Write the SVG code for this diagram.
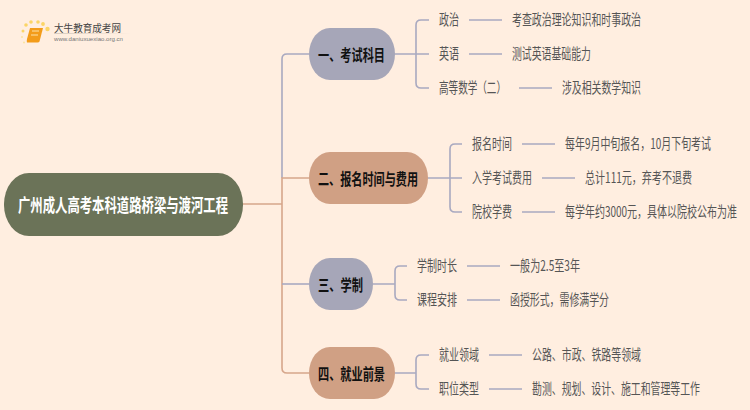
<svg xmlns="http://www.w3.org/2000/svg" width="750" height="410" viewBox="0 0 750 410">
<style>
text{font-family:"Noto Sans CJK SC","Liberation Sans",sans-serif;dominant-baseline:central}
.l{fill:none;stroke:#a9a9c0;stroke-width:1.6}
.t{fill:none;stroke:#d6a68b;stroke-width:1.6}
.s{font-size:10px;fill:#555}
.h{font-size:11.200px;font-weight:700;fill:#111}
</style>
<defs><linearGradient id="fade"><stop offset="0" stop-color="#d8ccc0"/><stop offset="1" stop-color="#ffeee0"/></linearGradient></defs>
<rect width="750" height="410" fill="#ffeee0"/>
<g id="logo">
<circle cx="23" cy="31" r="1.5" fill="#fbd566"/><circle cx="26" cy="25" r="1.8" fill="#fbd566"/><circle cx="31" cy="22" r="1.8" fill="#fbd566"/><circle cx="38" cy="22" r="1.8" fill="#fbd566"/><circle cx="43" cy="24" r="1.9" fill="#fbd566"/><circle cx="47.500" cy="29" r="2.200" fill="#fbd566"/><circle cx="22" cy="37" r="1" fill="#fbe3a0"/><circle cx="24" cy="42.500" r="1" fill="#fbe3a0"/>
<path d="M30 28H43L39.500 41.500Q39 42.500 37.500 42.500H27Q26.500 41 27 39Z" fill="#f39c1a"/>
<path d="M32 31H39M31 35H38" stroke="#fde2a8" stroke-width="1" fill="none"/>
<text x="54" y="27" font-size="10px" fill="#444" textLength="67" lengthAdjust="spacingAndGlyphs">大牛教育成考网</text>
<text x="54" y="39" font-size="6px" fill="#777" textLength="69" lengthAdjust="spacingAndGlyphs" style="font-family:'Liberation Sans',sans-serif">www.daniuxuexiao.org.cn</text>
<rect x="54" y="33" width="78" height="1" fill="url(#fade)"/>
</g>
<g id="connectors">
<path class="t" d="M243 204H282"/>
<path class="l" d="M309 54H287Q282 54 282 59V178"/>
<path class="t" d="M309 178H282V368Q282 373 287 373H309"/>
<path class="l" d="M309 284H282"/>
<path class="l" d="M395 54H429M429 20H421Q416 20 416 25V83Q416 88 421 88H429"/>
<path class="l" d="M469 20H502M469 54H502M519 88H552"/>
<path class="l" d="M428 178H450M462 144H455Q450 144 450 149V207Q450 212 455 212H462M450 178H462"/>
<path class="l" d="M522 144H555M542 178H575M522 212H555"/>
<path class="l" d="M373 284H395M407 266H400Q395 266 395 271V295Q395 300 400 300H407"/>
<path class="l" d="M467 266H500M467 300H500"/>
<path class="l" d="M395 373H416M429 355H421Q416 355 416 360V384Q416 389 421 389H429"/>
<path class="l" d="M489 355H522M489 389H522"/>
</g>
<g id="root"><rect x="4" y="173" width="239" height="63" rx="25" ry="31" fill="#6b7358"/><text transform="translate(18 204) scale(1 1.45)" font-size="12.350px" font-weight="700" fill="#fff" textLength="210" lengthAdjust="spacingAndGlyphs">广州成人高考本科道路桥梁与渡河工程</text></g>
<g id="n1"><rect x="309" y="28" width="86" height="52" rx="21" ry="26" fill="#a6a6b8"/><text class="h" transform="translate(318 54) scale(1 1.4)" textLength="67" lengthAdjust="spacingAndGlyphs">一、考试科目</text></g>
<g id="n2"><rect x="309" y="152" width="119" height="52" rx="21" ry="26" fill="#d0a084"/><text class="h" transform="translate(318 178) scale(1 1.4)" textLength="100" lengthAdjust="spacingAndGlyphs">二、报名时间与费用</text></g>
<g id="n3"><rect x="309" y="258" width="64" height="52" rx="21" ry="26" fill="#a6a6b8"/><text class="h" transform="translate(318 284) scale(1 1.4)" textLength="45" lengthAdjust="spacingAndGlyphs">三、学制</text></g>
<g id="n4"><rect x="309" y="347" width="86" height="52" rx="21" ry="26" fill="#d0a084"/><text class="h" transform="translate(318 373) scale(1 1.4)" textLength="67" lengthAdjust="spacingAndGlyphs">四、就业前景</text></g>
<g id="n1a"><text class="s" transform="translate(439 19.500) scale(1 1.45)" textLength="20" lengthAdjust="spacingAndGlyphs">政治</text></g>
<g id="n1b"><text class="s" transform="translate(439 53.500) scale(1 1.45)" textLength="20" lengthAdjust="spacingAndGlyphs">英语</text></g>
<g id="n1c"><text class="s" transform="translate(439 87.500) scale(1 1.45)" textLength="67" lengthAdjust="spacingAndGlyphs">高等数学（二）</text></g>
<g id="n1a1"><text class="s" transform="translate(512 19.500) scale(1 1.45)" textLength="129" lengthAdjust="spacingAndGlyphs">考查政治理论知识和时事政治</text></g>
<g id="n1b1"><text class="s" transform="translate(512 53.500) scale(1 1.45)" textLength="79" lengthAdjust="spacingAndGlyphs">测试英语基础能力</text></g>
<g id="n1c1"><text class="s" transform="translate(562 87.500) scale(1 1.45)" textLength="79" lengthAdjust="spacingAndGlyphs">涉及相关数学知识</text></g>
<g id="n2a"><text class="s" transform="translate(472 143.500) scale(1 1.45)" textLength="40" lengthAdjust="spacingAndGlyphs">报名时间</text></g>
<g id="n2b"><text class="s" transform="translate(472 177.500) scale(1 1.45)" textLength="60" lengthAdjust="spacingAndGlyphs">入学考试费用</text></g>
<g id="n2c"><text class="s" transform="translate(472 211.500) scale(1 1.45)" textLength="40" lengthAdjust="spacingAndGlyphs">院校学费</text></g>
<g id="n2a1"><text class="s" transform="translate(565 143.500) scale(1 1.45)" textLength="146" lengthAdjust="spacingAndGlyphs">每年9月中旬报名，10月下旬考试</text></g>
<g id="n2b1"><text class="s" transform="translate(585 177.500) scale(1 1.45)" textLength="107" lengthAdjust="spacingAndGlyphs">总计111元，弃考不退费</text></g>
<g id="n2c1"><text class="s" transform="translate(565 211.500) scale(1 1.45)" textLength="172" lengthAdjust="spacingAndGlyphs">每学年约3000元，具体以院校公布为准</text></g>
<g id="n3a"><text class="s" transform="translate(417 265.500) scale(1 1.45)" textLength="40" lengthAdjust="spacingAndGlyphs">学制时长</text></g>
<g id="n3b"><text class="s" transform="translate(417 299.500) scale(1 1.45)" textLength="40" lengthAdjust="spacingAndGlyphs">课程安排</text></g>
<g id="n3a1"><text class="s" transform="translate(510 265.500) scale(1 1.45)" textLength="70" lengthAdjust="spacingAndGlyphs">一般为2.5至3年</text></g>
<g id="n3b1"><text class="s" transform="translate(510 299.500) scale(1 1.45)" textLength="99" lengthAdjust="spacingAndGlyphs">函授形式，需修满学分</text></g>
<g id="n4a"><text class="s" transform="translate(439 354.500) scale(1 1.45)" textLength="40" lengthAdjust="spacingAndGlyphs">就业领域</text></g>
<g id="n4b"><text class="s" transform="translate(439 388.500) scale(1 1.45)" textLength="40" lengthAdjust="spacingAndGlyphs">职位类型</text></g>
<g id="n4a1"><text class="s" transform="translate(532 354.500) scale(1 1.45)" textLength="109" lengthAdjust="spacingAndGlyphs">公路、市政、铁路等领域</text></g>
<g id="n4b1"><text class="s" transform="translate(532 388.500) scale(1 1.45)" textLength="168" lengthAdjust="spacingAndGlyphs">勘测、规划、设计、施工和管理等工作</text></g>
</svg>
